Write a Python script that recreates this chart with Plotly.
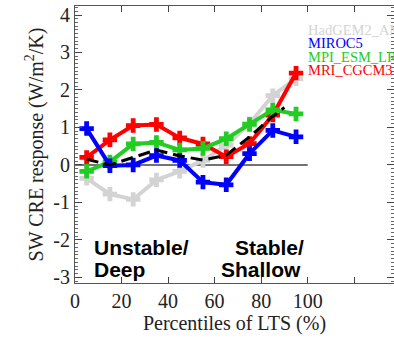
import plotly.graph_objects as go

# ---- data ----
percentiles = [5, 15, 25, 35, 45, 55, 65, 75, 85, 95]
hadgem2_a = [-0.36, -0.78, -0.92, -0.40, -0.17, 0.12, 0.52, 1.10, 1.85, 2.30]
miroc5 = [0.97, -0.02, 0.00, 0.25, 0.12, -0.46, -0.53, 0.30, 0.92, 0.75]
mpi_esm_lr = [-0.17, 0.08, 0.56, 0.60, 0.40, 0.44, 0.70, 1.08, 1.47, 1.36]
mri_cgcm3 = [0.20, 0.67, 1.05, 1.08, 0.72, 0.56, 0.22, 0.57, 1.33, 2.45]
mean_x = [5, 15, 25, 35, 45, 55, 65, 75, 85, 90]
mean_vals = [0.15, 0.00, 0.20, 0.40, 0.24, 0.13, 0.26, 0.75, 1.30, 1.53]

model_names = ["HadGEM2_AMIP", "MIROC5", "MPI_ESM_LR", "MRI_CGCM3"]
model_colors = ["#d3d3d3", "#0000ff", "#22cc22", "#ff0000"]

x_ticks = [0, 20, 40, 60, 80, 100]
x_ticktext = ["0", "20", "40", "60", "80", "100"]
x_unlabelled_ticks = [120]
y_ticks = [-3, -2, -1, 0, 1, 2, 3, 4]
y_ticktext = ["-3", "-2", "-1", "0", "1", "2", "3", "4"]

SERIF = "Liberation Serif"
SANS = "Liberation Sans"

fig = go.Figure()

series = {
    "HadGEM2_AMIP": hadgem2_a,
    "MIROC5": miroc5,
    "MPI_ESM_LR": mpi_esm_lr,
    "MRI_CGCM3": mri_cgcm3,
}
draw_order = ["HadGEM2_AMIP", "MRI_CGCM3", "MPI_ESM_LR", "MIROC5"]
for name in draw_order:
    c = model_colors[model_names.index(name)]
    fig.add_trace(go.Scatter(
        x=percentiles, y=series[name], mode="lines+markers", name=name,
        line=dict(color=c, width=4),
        marker=dict(symbol="cross", size=12, color=c, line=dict(width=0)),
        showlegend=False,
    ))

fig.add_trace(go.Scatter(
    x=mean_x, y=mean_vals, mode="lines", name="mean",
    line=dict(color="black", width=3, dash="12px,6px"),
    showlegend=False,
))

# zero reference line
fig.add_shape(type="line", xref="x", yref="y", x0=0, x1=100, y0=0, y1=0,
              line=dict(color="#444444", width=1.5), layer="below")

# legend as coloured text
legend_y = [3.6, 3.24, 2.88, 2.52]
for name, c, yy in zip(model_names, model_colors, legend_y):
    fig.add_annotation(x=99.4, y=yy, xref="x", yref="y", text=name,
                       showarrow=False, xanchor="left", yanchor="middle",
                       font=dict(family=SERIF, size=14.5, color=c))

# regime labels
for txt, xx, yy, xa in [("Unstable/", 7.4, -2.19, "left"), ("Deep", 7.4, -2.78, "left"),
                        ("Stable/", 99.3, -2.19, "right"), ("Shallow", 98.0, -2.78, "right")]:
    fig.add_annotation(x=xx, y=yy, xref="x", yref="y", text="<b>%s</b>" % txt,
                       showarrow=False, xanchor=xa, yanchor="middle",
                       font=dict(family=SANS, size=21, color="black"))

fig.update_layout(
    width=394, height=343,
    margin=dict(l=75, r=0, t=6, b=60),
    paper_bgcolor="white", plot_bgcolor="white",
    xaxis=dict(
        range=[0, 137.1], tickvals=x_ticks, ticktext=x_ticktext,
        ticks="inside", ticklen=6, tickcolor="#444", tickwidth=1,
        minor=dict(tickvals=x_unlabelled_ticks, ticks="inside", ticklen=6, tickcolor="#444"),
        showline=True, linecolor="#555", linewidth=1, mirror="ticks",
        showgrid=False, zeroline=False,
        tickfont=dict(family=SERIF, size=20, color="#222"),
        title=dict(text="Percentiles of LTS (%)", standoff=4,
                   font=dict(family=SERIF, size=20, color="#222")),
    ),
    yaxis=dict(
        range=[-3.15, 4.24], tickvals=y_ticks, ticktext=y_ticktext,
        ticks="inside", ticklen=7, tickcolor="#444", tickwidth=1,
        minor=dict(dtick=0.1, ticks="inside", ticklen=3, tickcolor="#666"),
        showline=True, linecolor="#555", linewidth=1, mirror="ticks",
        showgrid=False, zeroline=False,
        tickfont=dict(family=SERIF, size=20, color="#222"),
        title=dict(text="SW CRE response (W/m<sup>2</sup>/K)", standoff=4,
                   font=dict(family=SERIF, size=20, color="#222")),
    ),
)

fig.write_html("out.html")
